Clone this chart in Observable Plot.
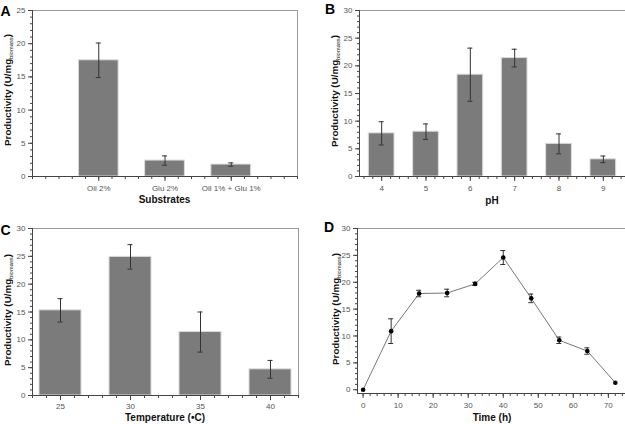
<!DOCTYPE html>
<html><head><meta charset="utf-8">
<script src="https://cdn.jsdelivr.net/npm/d3@7"></script>
<script src="https://cdn.jsdelivr.net/npm/@observablehq/plot@0.6"></script>
<style>
body{margin:0;background:#fff;}
#fig{position:relative;width:625px;height:424px;overflow:hidden;font-family:Arial,"Liberation Sans",sans-serif;}
#fig svg{position:absolute;overflow:visible;}
</style></head><body><div id="fig"></div>
<script>
// Panel A: substrates
const substrates = ["Oil 2%", "Glu 2%", "Oil 1% + Glu 1%"];
const substrateMean = [17.5, 2.4, 1.8];
const substrateErr = [2.6, 0.7, 0.25];
// Panel B: pH
const pHs = [4, 5, 6, 7, 8, 9];
const pHMean = [7.8, 8.1, 18.4, 21.4, 5.9, 3.1];
const pHErr = [2.1, 1.4, 4.8, 1.6, 1.8, 0.6];
// Panel C: temperature
const temps = [25, 30, 35, 40];
const tempMean = [15.3, 24.9, 11.4, 4.7];
const tempErr = [2.1, 2.2, 3.6, 1.6];
// Panel D: time course
const times = [0, 8, 16, 24, 32, 40, 48, 56, 64, 72];
const timeMean = [0, 10.9, 17.9, 18.0, 19.7, 24.6, 17.0, 9.2, 7.2, 1.3];
const timeErr = [0, 2.3, 0.6, 0.7, 0.3, 1.3, 0.8, 0.6, 0.6, 0];

const FONT = "Arial, 'Liberation Sans', sans-serif";
const fig = document.getElementById("fig");

function rows(xs, ms, es) { return xs.map((x, i) => ({x, v: ms[i], lo: ms[i] - es[i], hi: ms[i] + es[i]})); }

function errorMarks(data, cap) {
  const d2 = data.filter(d => d.hi > d.lo);
  return [
    Plot.ruleX(d2, {x: "x", y1: "lo", y2: "hi", stroke: "#333", strokeWidth: 1}),
    Plot.ruleY(d2, {y: "hi", x1: "x", x2: "x", insetLeft: -cap, insetRight: -cap, stroke: "#333", strokeWidth: 1}),
    Plot.ruleY(d2, {y: "lo", x1: "x", x2: "x", insetLeft: -cap, insetRight: -cap, stroke: "#333", strokeWidth: 1})
  ];
}

function panel(o) {
  const svg = Plot.plot({
    width: o.w, height: o.h,
    marginTop: o.m[0], marginRight: o.m[1], marginBottom: o.m[2], marginLeft: o.m[3],
    x: {domain: o.xDomain},
    y: {domain: o.yDomain},
    style: {fontFamily: FONT, fontSize: "8px", color: "#555", background: "transparent"},
    marks: [
      Plot.frame({stroke: "#9a9a9a", strokeWidth: 1}),
      ...o.marks,
      Plot.axisY(d3.range(0, o.yDomain[1] + 0.001, 1), {tickSize: 2, text: null, label: null, stroke: "#444"}),
      Plot.axisY(d3.range(0, o.yDomain[1] + 0.001, 5), {tickSize: 4, tickPadding: 3, label: null, stroke: "#444", fill: "#555"}),
      Plot.axisX(o.xMinor, {tickSize: 3, text: null, label: null, stroke: "#444"}),
      Plot.axisX(o.xMajor, {tickSize: 5, tickPadding: o.tickPad, tickFormat: o.xFormat, label: null, stroke: "#444", fill: "#555"}),
      Plot.ruleX([o.xDomain[0]], {stroke: "#444", strokeWidth: 1}),
      Plot.ruleY([o.yDomain[0]], {stroke: "#444", strokeWidth: 1})
    ]
  });
  svg.style.left = o.left + "px";
  svg.style.top = o.top + "px";
  const s = d3.select(svg);
  // y-axis label with subscript
  const t = s.append("text")
    .attr("transform", `translate(${o.yl[0]},${o.yl[1]}) rotate(-90)`)
    .attr("text-anchor", "middle").attr("font-family", FONT)
    .attr("font-weight", "bold").attr("font-size", 9.8).attr("fill", "#111");
  t.append("tspan").text("Productivity (U/mg");
  t.append("tspan").attr("font-size", 5.8).attr("font-weight", "normal").attr("dy", 1.5).text("biomass");
  t.append("tspan").attr("dy", -1.5).text(")");
  // x title
  s.append("text").attr("x", o.xt[0]).attr("y", o.xt[1]).attr("text-anchor", "middle")
    .attr("font-family", FONT).attr("font-weight", "bold").attr("font-size", 10).attr("fill", "#111")
    .text(o.xTitle);
  // panel letter
  s.append("text").attr("x", o.letterPos[0]).attr("y", o.letterPos[1])
    .attr("text-anchor", "start")
    .attr("font-family", FONT).attr("font-weight", "bold").attr("font-size", 14).attr("fill", "#000")
    .text(o.letter);
  fig.appendChild(svg);
}

// A
const dA = substrates.map((c, i) => ({x: i + 1, v: substrateMean[i], lo: substrateMean[i] - substrateErr[i], hi: substrateMean[i] + substrateErr[i]}));
panel({
  left: 0, top: 0, w: 312, h: 212, m: [10, 15, 36, 32],
  xDomain: [0, 4], yDomain: [0, 25],
  xMajor: [1, 2, 3], xMinor: d3.range(0, 21).map(i => i * 0.2),
  xFormat: d => substrates[Math.round(d) - 1], tickPad: 4,
  marks: [
    Plot.rectY(dA, {x1: d => d.x - 0.3, x2: d => d.x + 0.3, y: "v", fill: "#7b7b7b", stroke: "#dcdcdc", strokeWidth: 1}),
    ...errorMarks(dA, 2.5)
  ],
  yl: [11, 90], xt: [164.5, 203], xTitle: "Substrates", letter: "A", letterPos: [0.5, 16]
});

// B
const dB = rows(pHs, pHMean, pHErr);
panel({
  left: 312, top: 0, w: 313, h: 212, m: [10, 0, 36, 47],
  xDomain: [3.5, 9.5], yDomain: [0, 30],
  xMajor: pHs, xMinor: d3.range(0, 30).map(i => 3.6 + i * 0.2),
  xFormat: d => d, tickPad: 4,
  marks: [
    Plot.rectY(dB, {x1: d => d.x - 0.29, x2: d => d.x + 0.29, y: "v", fill: "#7b7b7b", stroke: "#dcdcdc", strokeWidth: 1}),
    ...errorMarks(dB, 2.5)
  ],
  yl: [26, 91], xt: [180, 204], xTitle: "pH", letter: "B", letterPos: [13, 14]
});

// C
const dC = rows(temps, tempMean, tempErr);
panel({
  left: 0, top: 212, w: 312, h: 212, m: [16, 14, 29, 32],
  xDomain: [23, 42], yDomain: [0, 30],
  xMajor: temps, xMinor: d3.range(23, 43),
  xFormat: d => d, tickPad: 3,
  marks: [
    Plot.rectY(dC, {x1: d => d.x - 1.5, x2: d => d.x + 1.5, y: "v", fill: "#7b7b7b", stroke: "#dcdcdc", strokeWidth: 1}),
    ...errorMarks(dC, 2.5)
  ],
  yl: [11, 98], xt: [165, 209], xTitle: "Temperature (\u2022C)", letter: "C", letterPos: [0.5, 23]
});

// D
const dD = rows(times, timeMean, timeErr);
panel({
  left: 312, top: 212, w: 313, h: 212, m: [16, 0, 31, 45],
  xDomain: [-1.6, 74.9], yDomain: [-0.7, 30],
  xMajor: d3.range(0, 71, 10), xMinor: d3.range(0, 75, 2),
  xFormat: d => d, tickPad: 4,
  marks: [
    Plot.line(dD, {x: "x", y: "v", stroke: "#777", strokeWidth: 1}),
    ...errorMarks(dD, 2.5),
    Plot.dot(dD, {x: "x", y: "v", r: 2.3, fill: "#000", stroke: "none"})
  ],
  yl: [27, 97], xt: [180, 209], xTitle: "Time (h)", letter: "D", letterPos: [12, 20]
});
</script>
</body></html>
